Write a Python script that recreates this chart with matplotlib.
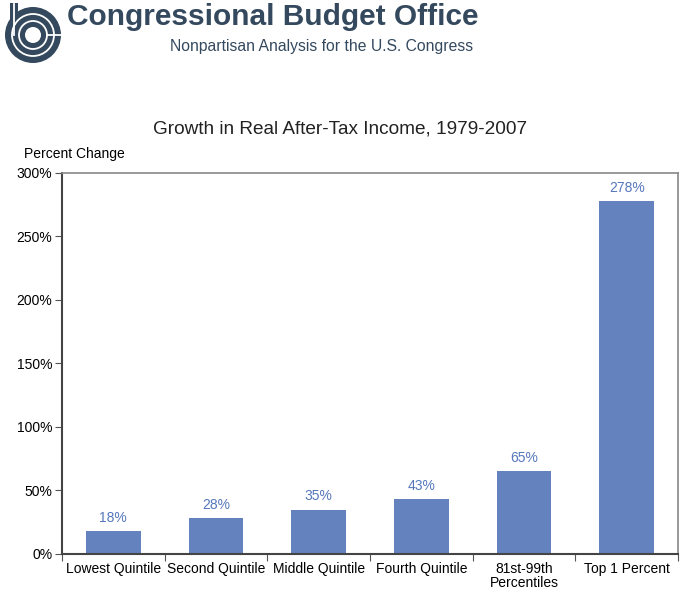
import matplotlib.pyplot as plt
import matplotlib.patches as mpatches
import numpy as np

# data
categories = ['Lowest Quintile', 'Second Quintile', 'Middle Quintile',
              'Fourth Quintile', '81st-99th\nPercentiles', 'Top 1 Percent']
growth = [18, 28, 35, 43, 65, 278]
yticks = [0, 50, 100, 150, 200, 250, 300]

bar_color = '#6482bd'
label_color = '#5577bb'
logo_color = '#34495e'

fig = plt.figure(figsize=(6.8, 5.93), dpi=100)

# header logo (axes in pixel units, y down)
lax = fig.add_axes([0.0, 1 - 66 / 593, 66 / 680, 66 / 593])
lax.set_xlim(0, 66)
lax.set_ylim(66, 0)
lax.axis('off')
cx, cy = 33, 35
lax.add_patch(mpatches.Circle((cx, cy), 28, color=logo_color, lw=0))
lax.add_patch(mpatches.Rectangle((9.5, 3), 8, cy - 3, color=logo_color, lw=0))
for r in [21, 14]:
    lax.add_patch(mpatches.Circle((cx, cy), r, fill=False, ec='white', lw=1.3))
lax.add_patch(mpatches.Circle((cx, cy), 8, color='white', lw=0))
lax.plot([13.5, 13.5], [4, cy], color='white', lw=1.3)
lax.plot([cx + 14, cx + 29], [cy, cy], color='white', lw=1.3)

fig.text(0.098, 0.971, 'Congressional Budget Office', fontsize=21.5, fontweight='bold',
         color=logo_color, va='center', ha='left', family='Liberation Sans')
fig.text(0.696, 0.921, 'Nonpartisan Analysis for the U.S. Congress', fontsize=11.3,
         color=logo_color, va='center', ha='right', family='Liberation Sans')

# main chart
ax = fig.add_axes([0.0912, 0.0658, 0.9058, 0.6425])
x = np.arange(len(categories))
ax.bar(x, growth, width=0.53, color=bar_color)
for xi, v in zip(x, growth):
    ax.text(xi, v + 5, f'{v}%', ha='center', va='bottom', fontsize=10,
            color=label_color, family='Liberation Sans')

ax.set_xlim(-0.5, len(categories) - 0.5)
ax.set_ylim(0, 300)
ax.set_yticks(yticks)
ax.set_yticklabels([f'{t}%' for t in yticks], fontsize=10, family='Liberation Sans')
ax.set_xticks(np.arange(len(categories) + 1) - 0.5)
ax.set_xticklabels([])
ax.set_xticks(x, minor=True)
ax.set_xticklabels(categories, minor=True, fontsize=10, family='Liberation Sans',
                   va='top', linespacing=1.0)
ax.tick_params(axis='x', which='minor', length=0, pad=6)
ax.tick_params(axis='x', which='major', direction='out', length=5, color='#555555')
ax.tick_params(axis='y', direction='out', length=5, color='#555555', pad=2)
for s in ['left', 'bottom']:
    ax.spines[s].set_color('#444444')
    ax.spines[s].set_linewidth(1.5)
for s in ['top', 'right']:
    ax.spines[s].set_color('#888888')
    ax.spines[s].set_linewidth(1.2)

fig.text(0.5, 0.782, 'Growth in Real After-Tax Income, 1979-2007', fontsize=13.7,
         ha='center', va='center', family='Liberation Sans', color='#222222')
fig.text(0.035, 0.741, 'Percent Change', fontsize=10, ha='left', va='center',
         family='Liberation Sans')

fig.savefig('out.png', dpi=100)
